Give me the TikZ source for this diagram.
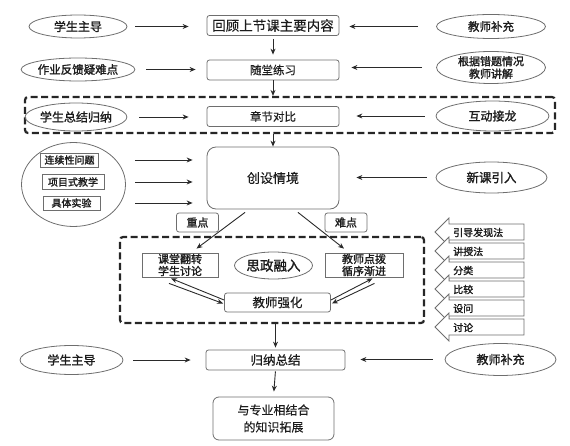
\documentclass[tikz,border=0pt]{standalone}
\usepackage{fontspec}
\usetikzlibrary{arrows.meta,shapes.geometric}
\newfontfamily\cjkr[FakeBold=0.4]{Noto Sans CJK SC}
\newfontfamily\cjkb[FakeBold=1.6]{Noto Sans CJK SC}
\definecolor{bordc}{HTML}{6E6E6E}
\definecolor{txtc}{HTML}{1C1C1C}
\definecolor{arrc}{HTML}{2A2A2A}
\newcommand{\fs}[1]{\fontsize{#1}{#1}\selectfont}
\begin{document}
\begin{tikzpicture}[x=1pt,y=-1pt,
  ell/.style={ellipse, draw=bordc, line width=0.8pt, inner sep=0pt, text=txtc, align=center},
  box/.style={rectangle, rounded corners=2.5pt, draw=bordc, line width=0.8pt, inner sep=0pt, text=txtc, align=center},
  sbox/.style={rectangle, draw=bordc, line width=0.8pt, inner sep=0pt, text=txtc, align=center, font=\cjkb\fs{10}},
  dashbox/.style={rectangle, rounded corners=3pt, draw=black!85, line width=2.2pt, dash pattern=on 7pt off 3.5pt, inner sep=0pt},
  arr/.style={-{Stealth[length=6pt,width=5pt]}, line width=0.9pt, draw=arrc},
  barrow/.style={draw=bordc, line width=0.8pt, fill=white, line join=miter}
]
\useasboundingbox (0,0) rectangle (570,446);

% dashed groups
\node[dashbox, minimum width=530pt, minimum height=36pt] (d1) at (290,115) {};
\node[dashbox, minimum width=304pt, minimum height=86pt] (d2) at (272,280) {};

% row 1
\node[ell, minimum width=98pt, minimum height=23pt, font=\cjkb\fs{12}] (e1) at (78,26.5) {学生主导};
\node[box, minimum width=132pt, minimum height=20pt, font=\cjkr\fs{13.5}] (b1) at (273,25.5) {回顾上节课主要内容};
\node[ell, minimum width=109pt, minimum height=24pt, font=\cjkb\fs{11.5}] (f1) at (491,26.5) {教师补充};
% row 2
\node[ell, minimum width=98pt, minimum height=23pt, font=\cjkb\fs{11.5}] (e2) at (78,69.5) {作业反馈疑难点};
\node[box, minimum width=132pt, minimum height=20pt, font=\cjkr\fs{11.5}] (b2) at (273,70) {随堂练习};
\node[ell, minimum width=109pt, minimum height=31pt, font=\cjkb\fontsize{11}{12.5}\selectfont] (f2) at (491,67.5) {根据错题情况\\教师讲解};
% row 3
\node[ell, minimum width=96pt, minimum height=28pt, font=\cjkb\fs{12}] (e3) at (76,117) {学生总结归纳};
\node[box, minimum width=132pt, minimum height=20pt, font=\cjkr\fs{11.5}] (b3) at (273,116.5) {章节对比};
\node[ell, minimum width=113pt, minimum height=30pt, font=\cjkb\fs{12}] (f3) at (492.5,116) {互动接龙};

% scene creation row
\node[ellipse, draw=bordc, line width=0.8pt, minimum width=104pt, minimum height=84pt, inner sep=0pt] (g) at (73.5,184.5) {};
\node[sbox, minimum width=58pt, minimum height=14pt] (s1) at (69.5,160) {连续性问题};
\node[sbox, minimum width=62pt, minimum height=15pt] (s2) at (73,182) {项目式教学};
\node[sbox, minimum width=57pt, minimum height=14pt] (s3) at (71.5,203) {具体实验};
\node[box, rounded corners=9pt, minimum width=132pt, minimum height=62pt, font=\cjkr\fs{13}] (c) at (273,178) {创设情境};
\node[ell, minimum width=111pt, minimum height=31pt, font=\cjkb\fs{12.5}] (n1) at (491.5,177.5) {新课引入};

\node[box, minimum width=42pt, minimum height=19pt, font=\cjkb\fs{11}] (zd) at (197.5,222.5) {重点};
\node[box, minimum width=42pt, minimum height=19pt, font=\cjkb\fs{11}] (nd) at (346,222.5) {难点};

% inner group
\node[sbox, minimum width=76pt, minimum height=24pt, font=\cjkb\fontsize{11}{12}\selectfont] (k1) at (180,265) {课堂翻转\\学生讨论};
\node[ell, minimum width=78pt, minimum height=27pt, font=\cjkb\fs{13.5}] (sz) at (273.5,265.5) {思政融入};
\node[sbox, minimum width=78pt, minimum height=24pt, font=\cjkb\fontsize{11}{12}\selectfont] (k2) at (364,265) {教师点拨\\循序渐进};
\node[box, minimum width=106pt, minimum height=19pt, font=\cjkr\fs{12.5}] (q) at (277.5,302.5) {教师强化};

% bottom
\node[ell, minimum width=103pt, minimum height=29pt, font=\cjkb\fs{12}] (e4) at (71.5,360) {学生主导};
\node[box, minimum width=139pt, minimum height=20pt, font=\cjkr\fs{12.5}] (sum) at (275.5,360) {归纳总结};
\node[ell, minimum width=111pt, minimum height=32pt, font=\cjkb\fs{12}] (f4) at (500.5,359.5) {教师补充};
\node[box, rounded corners=6pt, minimum width=121pt, minimum height=43pt, font=\cjkr\fontsize{12}{17}\selectfont] (last) at (273.5,418.5) {与专业相结合\\的知识拓展};

% horizontal connectors
\draw[arr, shorten <=8pt, shorten >=18pt] (e1.east) -- (b1.west |- e1.east);
\draw[arr, shorten <=18pt, shorten >=10pt] (f1.west) -- (b1.east |- f1.west);
\draw[arr, shorten <=11pt, shorten >=11pt] (e2.east) -- (b2.west |- e2.east);
\draw[arr, shorten <=14pt, shorten >=12pt] (f2.west) -- (b2.east |- f2.west);
\draw[arr, shorten <=12pt, shorten >=18pt] (e3.east) -- (b3.west |- e3.east);
\draw[arr, shorten <=11pt, shorten >=17pt] (f3.west) -- (b3.east |- f3.west);
\draw[arr, shorten <=36pt, shorten >=14pt] (s1.east) -- (c.west |- s1.east);
\draw[arr, shorten <=31pt, shorten >=14pt] (s2.east) -- (c.west |- s2.east);
\draw[arr, shorten <=35pt, shorten >=14pt] (s3.east) -- (c.west |- s3.east);
\draw[arr, shorten <=9pt, shorten >=17pt] (n1.west) -- (c.east |- n1.west);
\draw[arr, shorten <=10pt, shorten >=15pt] (e4.east) -- (sum.west |- e4.east);
\draw[arr, shorten <=12pt, shorten >=15pt] (f4.west) -- (sum.east |- f4.west);

% vertical connectors
\draw[arr, shorten <=3pt, shorten >=5pt] (b1.south) -- (b2.north);
\draw[arr] (b2.south) -- (b2.south |- d1.north);
\draw[arr] (d1.south -| c.north) -- (c.north);
\draw[arr, shorten >=2pt] (d2.south -| sum.north) -- (sum.north);
\draw[arr, shorten <=1pt, shorten >=5pt] (sum.south) -- (last.north);

% diagonal connectors
\draw[arr] ([shift={(-28,3)}]c.south) -- ([shift={(16.5,-4)}]k1.north);
\draw[arr] ([shift={(25,3)}]c.south) -- ([shift={(-20,-4)}]k2.north);

% double connectors
\coordinate (la) at ([shift={(-9,1)}]k1.south);
\coordinate (lq) at ([shift={(0,-2.5)}]q.west);
\coordinate (ra) at ([shift={(8.5,1)}]k2.south);
\coordinate (rq) at ([shift={(0,-2.5)}]q.east);
\draw[arr] (lq) -- (la);
\draw[arr] ([shift={(-2,5)}]la) -- ([shift={(-1,3.5)}]lq);
\draw[arr] (rq) -- (ra);
\draw[arr] ([shift={(2,5)}]ra) -- ([shift={(1,3.5)}]rq);

% method block arrows
\foreach \t/\y [count=\i] in {引导发现法/224, 讲授法/243, 分类/262, 比较/281, 设问/300, 讨论/319} {
  \draw[barrow] (524,\y) -- (449,\y) -- (449,\y-6) -- (435,\y+8) -- (449,\y+22) -- (449,\y+16) -- (524,\y+16) -- cycle;
  \node[anchor=west, inner sep=0pt, text=txtc, font=\cjkb\fs{10}] (m\i) at (453,\y+8.5) {\t};
}
\end{tikzpicture}
\end{document}
